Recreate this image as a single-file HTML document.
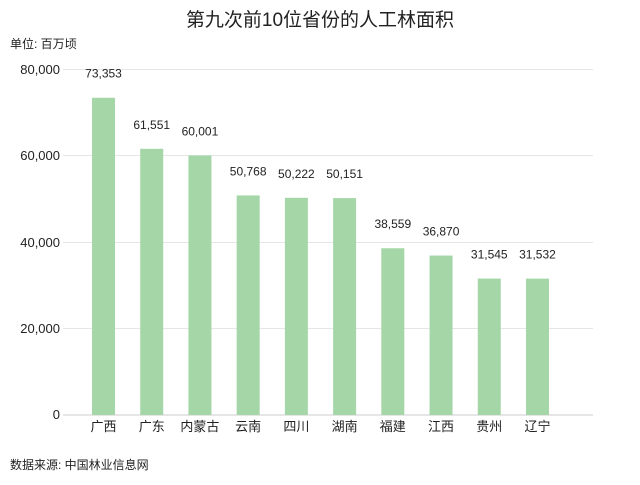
<!DOCTYPE html>
<html><head><meta charset="utf-8"><style>
body{margin:0;background:#fff}
svg text{font-family:"Liberation Sans","Noto Sans CJK SC",sans-serif;fill:#222}
</style></head><body>
<svg width="640" height="480" xmlns="http://www.w3.org/2000/svg">
<text x="320" y="26" font-size="19" text-anchor="middle" fill="#333">第九次前10位省份的人工林面积</text>
<text x="10" y="48" font-size="12">单位: 百万顷</text>
<g stroke="#e6e6e6" stroke-width="1">
<line x1="63" y1="69.5" x2="593" y2="69.5"/>
<line x1="63" y1="155.5" x2="593" y2="155.5"/>
<line x1="63" y1="242.5" x2="593" y2="242.5"/>
<line x1="63" y1="328.5" x2="593" y2="328.5"/>
</g>
<line x1="63" y1="415" x2="593" y2="415" stroke="#ccc"/>
<g font-size="13" text-anchor="end">
<text x="60" y="74">80,000</text>
<text x="60" y="160">60,000</text>
<text x="60" y="247">40,000</text>
<text x="60" y="333">20,000</text>
<text x="60" y="419">0</text>
</g>
<g id="bars" fill="#a5d6a7"></g>
<g id="lbl" font-size="12" text-anchor="middle"></g>
<text x="10" y="469" font-size="12">数据来源: 中国林业信息网</text>
<script>
var d=[["广西",73353],["广东",61551],["内蒙古",60001],["云南",50768],["四川",50222],["湖南",50151],["福建",38559],["江西",36870],["贵州",31545],["辽宁",31532]];
var b=document.getElementById('bars'),l=document.getElementById('lbl'),ns="http://www.w3.org/2000/svg";
d.forEach(function(e,i){var cx=103.5+i*48.22,top=415-e[1]*0.004325;
var r=document.createElementNS(ns,'rect');r.setAttribute('x',cx-11.5);r.setAttribute('y',top);r.setAttribute('width',23);r.setAttribute('height',415-top);b.appendChild(r);
var t=document.createElementNS(ns,'text');t.setAttribute('x',cx);t.setAttribute('y',top-20);t.textContent=e[1].toLocaleString('en-US');l.appendChild(t);
var t2=document.createElementNS(ns,'text');t2.setAttribute('x',cx);t2.setAttribute('y',431);t2.setAttribute('font-size','13');t2.textContent=e[0];l.appendChild(t2);});
</script>
</svg>
</body></html>
